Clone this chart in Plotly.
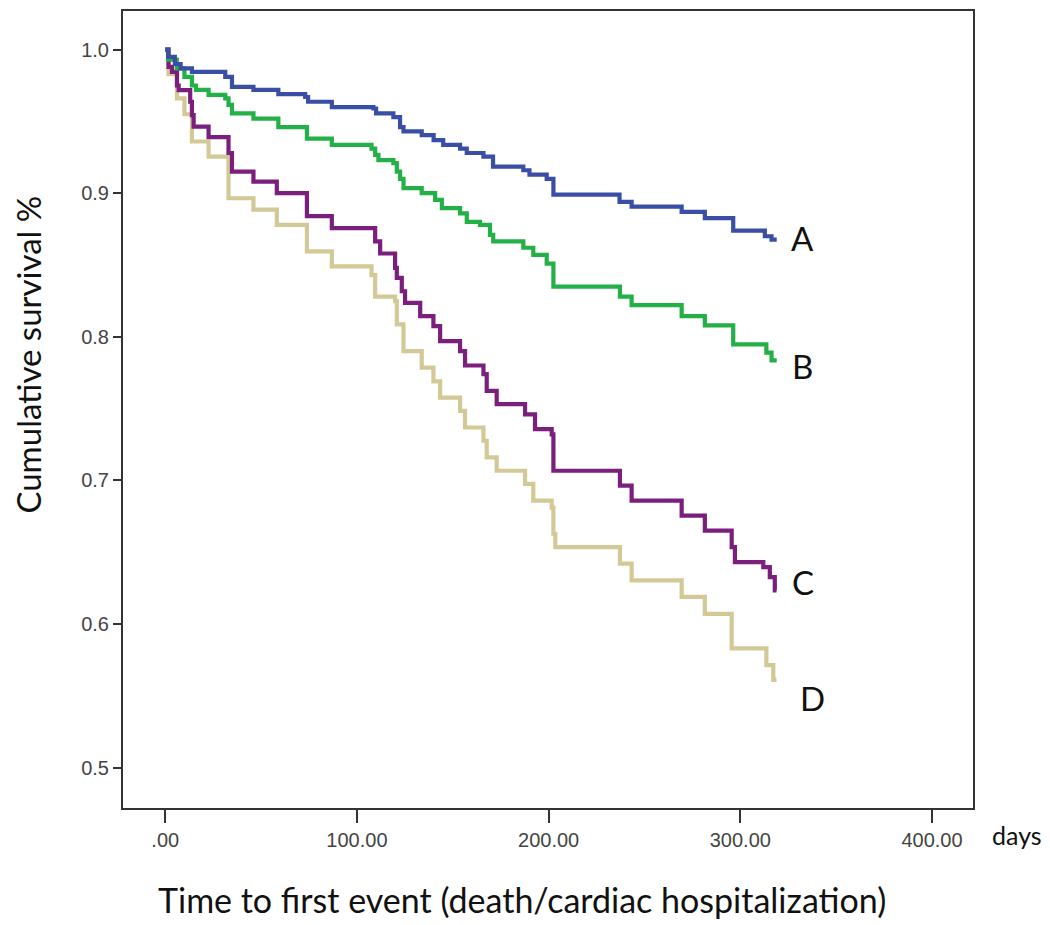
import plotly.graph_objects as go

# ---- data (days, cumulative survival) ----
time_A = [0, 1.5, 5, 8, 13.9, 31.3, 34.8, 46, 59, 73, 74.5, 86.9, 108.6, 110, 119, 122.5, 124.3,
          133.8, 140, 145, 153.8, 157.3, 166, 171, 186.8, 190, 199, 202.5, 237, 243.3, 269.4,
          281.5, 296.3, 312.8, 316.3, 319]
surv_A = [1.0, 0.995, 0.990, 0.987, 0.9845, 0.981, 0.974, 0.972, 0.969, 0.967, 0.9637, 0.960, 0.959,
          0.9556, 0.953, 0.946, 0.943, 0.9405, 0.937, 0.9336, 0.931, 0.928, 0.9255, 0.9185, 0.916,
          0.913, 0.910, 0.899, 0.894, 0.8907, 0.887, 0.8826, 0.874, 0.870, 0.8676, 0.8676]

time_B = [0, 1.5, 6, 10, 13.9, 16, 22.6, 31.3, 33, 34.8, 46, 59, 73.9, 86.9, 107.6, 109.5, 111.2,
          119, 120.8, 122.5, 124.3, 133.8, 140.8, 144.3, 153.8, 157.3, 164.2, 169.4, 171.1, 186.8,
          192, 199, 202.5, 237.2, 243.3, 269.4, 281.5, 296.3, 313.6, 316.3, 319]
surv_B = [1.0, 0.993, 0.987, 0.981, 0.975, 0.972, 0.9685, 0.966, 0.9615, 0.9556, 0.952, 0.946, 0.938,
          0.9336, 0.931, 0.9267, 0.923, 0.921, 0.915, 0.910, 0.9035, 0.900, 0.8954, 0.8896, 0.886,
          0.880, 0.878, 0.871, 0.8665, 0.862, 0.857, 0.851, 0.835, 0.828, 0.822, 0.8144, 0.808,
          0.7947, 0.789, 0.7836, 0.7836]

time_C = [0, 1.7, 3.5, 6.1, 7, 13, 13.9, 14.8, 22.6, 33, 34.8, 46, 58.2, 73.9, 86.9, 109.5, 112.1,
          119.9, 120.8, 123.4, 125.1, 133, 139.9, 143.4, 153.8, 156.4, 166, 167.7, 172.9, 187.7,
          192.9, 201.6, 202.5, 237.2, 243.3, 269.4, 281.5, 295.5, 297.2, 312, 315.4, 318, 318.9]
surv_C = [1.0, 0.988, 0.9845, 0.975, 0.9718, 0.9637, 0.9544, 0.9463, 0.939, 0.928, 0.915, 0.908,
          0.900, 0.884, 0.8757, 0.8665, 0.858, 0.848, 0.841, 0.8317, 0.8236, 0.8144, 0.8074, 0.797,
          0.790, 0.780, 0.774, 0.7623, 0.7531, 0.746, 0.7357, 0.732, 0.7067, 0.6963, 0.6859, 0.6755,
          0.665, 0.6535, 0.643, 0.6396, 0.6326, 0.6234, 0.6234]

time_D = [0, 1.7, 6.1, 10, 13.9, 22.6, 33, 46, 58.2, 73.9, 86.9, 107.6, 109.5, 119.9, 120.8, 124.3,
          133.8, 139.9, 143.4, 153.8, 156.4, 166, 167.7, 172.9, 187.7, 192, 201.6, 202.5, 203.5,
          237.2, 243.3, 269.4, 281.5, 295.5, 313.6, 317.2, 318.9]
surv_D = [1.0, 0.983, 0.966, 0.955, 0.936, 0.9255, 0.8965, 0.8885, 0.878, 0.8595, 0.849, 0.843,
          0.828, 0.8248, 0.8086, 0.790, 0.7785, 0.769, 0.7576, 0.7484, 0.7368, 0.7276, 0.716,
          0.7067, 0.6975, 0.6859, 0.681, 0.6628, 0.6535, 0.642, 0.6303, 0.6188, 0.607, 0.583,
          0.5713, 0.561, 0.561]

group_names = ["A", "B", "C", "D"]
colors = {"A": "#3B4EA6", "B": "#23B046", "C": "#7A1F7D", "D": "#D3C996"}

x_tick_vals = [0, 100, 200, 300, 400]
x_tick_text = [".00", "100.00", "200.00", "300.00", "400.00"]
y_tick_vals = [0.5, 0.6, 0.7, 0.8, 0.9, 1.0]
y_tick_text = ["0.5", "0.6", "0.7", "0.8", "0.9", "1.0"]

series = {"A": (time_A, surv_A), "B": (time_B, surv_B), "C": (time_C, surv_C), "D": (time_D, surv_D)}

fig = go.Figure()
for g in ["D", "C", "B", "A"]:
    t, s = series[g]
    fig.add_trace(go.Scatter(x=t, y=s, mode="lines", line=dict(shape="hv", color=colors[g], width=4.2),
                             name=g, showlegend=False))

label_font = dict(family="Lato, Carlito, Calibri, sans-serif", size=33, color="#111")
label_pos = {"A": (332.6, 0.8685), "B": (332.6, 0.7795), "C": (332.6, 0.629), "D": (337.9, 0.5485)}
for g in group_names:
    x, y = label_pos[g]
    fig.add_annotation(x=x, y=y, text=g, showarrow=False, font=label_font, xanchor="center", yanchor="middle")

tick_font = dict(family="Liberation Sans Narrow, Arial Narrow, Liberation Sans, sans-serif", size=20, color="#444")

fig.update_xaxes(range=[-22.05, 421.4], tickvals=x_tick_vals, ticktext=x_tick_text, ticks="outside",
                 ticklen=13, tickwidth=2, tickcolor="#333", showline=True, linecolor="#333", linewidth=2,
                 mirror=True, showgrid=False, zeroline=False, tickfont=tick_font)
fig.update_yaxes(range=[0.4718, 1.0269], tickvals=y_tick_vals, ticktext=y_tick_text, ticks="outside",
                 ticklen=8, tickwidth=2, tickcolor="#333", showline=True, linecolor="#333", linewidth=2,
                 mirror=True, showgrid=False, zeroline=False, tickfont=tick_font)

title_family = "Lato, Carlito, Calibri, sans-serif"
fig.add_annotation(x=-0.1112, y=0.5695, xref="paper", yref="paper", xanchor="center", yanchor="middle",
                   text="Cumulative survival %", textangle=-90, showarrow=False,
                   font=dict(family=title_family, size=33, color="#111"))
fig.add_annotation(x=0.469, y=-0.1151, xref="paper", yref="paper", xanchor="center", yanchor="middle",
                   text="Time to first event (death/cardiac hospitalization)", showarrow=False,
                   font=dict(family=title_family, size=34, color="#111"))
fig.add_annotation(x=1.02, y=-0.034, xref="paper", yref="paper", xanchor="left", yanchor="middle",
                   text="days", showarrow=False,
                   font=dict(family=title_family, size=25, color="#111"))

# page body has an 8px margin, so the figure is sized/offset to land on the reference pixels
fig.update_layout(width=1042, height=917, margin=dict(l=115, r=77, t=1, b=117),
                  plot_bgcolor="white", paper_bgcolor="white")

fig.write_html("out.html")
